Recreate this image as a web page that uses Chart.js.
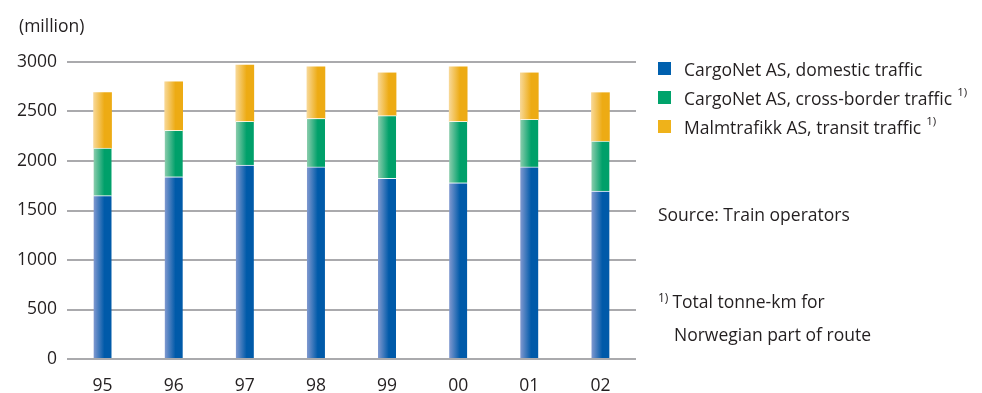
<!DOCTYPE html>
<html>
<head>
<meta charset="utf-8">
<script src="https://cdn.jsdelivr.net/npm/chart.js@4/dist/chart.umd.min.js"></script>
<style>
  html, body { margin: 0; padding: 0; background: #fff; }
  #wrap { position: relative; width: 982px; height: 393px; overflow: hidden;
          font-family: "Open Sans", "Noto Sans", sans-serif; color: #231f20; }
  #chart { position: absolute; left: 0; top: 0; }
  .unit { position: absolute; left: 19px; top: 13px; font-size: 17.5px; line-height: 24px; }
  .legend { position: absolute; left: 658px; top: 54px; }
  .row { height: 29px; display: flex; align-items: center; font-size: 17.5px; white-space: nowrap; }
  .sw { width: 13px; height: 13px; margin-right: 13px; flex: none; }
  .sup { font-size: 11.5px; position: relative; top: -6px; margin-left: 5px; }
  .note { position: absolute; left: 658px; font-size: 17.5px; line-height: 30px; white-space: nowrap; }
  .note .sup { margin-left: 0; margin-right: 4px; font-size: 12px; }
</style>
</head>
<body>
<div id="wrap">
  <canvas id="chart" width="982" height="393"></canvas>
  <div class="unit">(million)</div>
  <div class="legend" id="legend"></div>
  <div class="note" style="top:199px;">Source: Train operators</div>
  <div class="note" style="top:286px;"><span class="sup">1)</span>Total tonne-km for<br><span style="padding-left:16px">Norwegian part of route</span></div>
</div>
<script>
// Freight train traffic, tonne-km (million), by operator
const years = ['95', '96', '97', '98', '99', '00', '01', '02'];
const domestic    = [1650, 1840, 1960, 1940, 1825, 1780, 1940, 1695];
const crossBorder = [ 480,  470,  440,  490,  635,  620,  480,  505];
const transit     = [ 560,  490,  570,  520,  430,  550,  470,  490];
const yTicks = [0, 500, 1000, 1500, 2000, 2500, 3000];

const seriesNames = [
  'CargoNet AS, domestic traffic',
  'CargoNet AS, cross-border traffic',
  'Malmtrafikk AS, transit traffic'
];
const footnoted = [false, true, true];

const BAR = 18;
const palette = [
  { swatch: '#0060ae', light: '#8199d0', dark: '#005aa9' },
  { swatch: '#00a36b', light: '#8ccdad', dark: '#00a06a' },
  { swatch: '#efb21a', light: '#f8d896', dark: '#edab14' }
];

// Horizontal shading across each bar, light on the left, saturated on the right
function barFill(p) {
  return (ctx) => {
    const chart = ctx.chart;
    const x = chart.scales && chart.scales.x;
    if (!chart.chartArea || !x || ctx.dataIndex === undefined) return p.dark;
    const cx = x.getPixelForValue(ctx.dataIndex);
    const g = chart.ctx.createLinearGradient(cx - BAR / 2, 0, cx + BAR / 2, 0);
    g.addColorStop(0, p.light);
    g.addColorStop(0.6, p.dark);
    g.addColorStop(1, p.dark);
    return g;
  };
}

const values = [domestic, crossBorder, transit];
const datasets = values.map((data, i) => ({
  label: seriesNames[i],
  data: data,
  backgroundColor: barFill(palette[i]),
  borderColor: 'rgba(255,255,255,0.75)',
  borderWidth: i < 2 ? { top: 1, bottom: 0, left: 0, right: 0 } : 0,
  borderSkipped: false,
  barThickness: BAR
}));

// HTML legend built from the series names
const legendEl = document.getElementById('legend');
seriesNames.forEach((name, i) => {
  const row = document.createElement('div');
  row.className = 'row';
  row.innerHTML = '<span class="sw" style="background:' + palette[i].swatch + '"></span>' +
    name + (footnoted[i] ? '<span class="sup">1)</span>' : '');
  legendEl.appendChild(row);
});

const tickFont = { family: '"Open Sans", "Noto Sans", sans-serif', size: 17.5 };

new Chart(document.getElementById('chart'), {
  type: 'bar',
  data: { labels: years, datasets: datasets },
  options: {
    responsive: false,
    animation: false,
    layout: { padding: { top: 62, right: 346, left: 0, bottom: 0 } },
    plugins: { legend: { display: false }, tooltip: { enabled: false } },
    scales: {
      x: {
        stacked: true,
        grid: { display: false, drawTicks: false },
        border: { display: false },
        ticks: { color: '#231f20', font: tickFont, padding: 17 },
        afterFit: (s) => { s.height = 34; }
      },
      y: {
        stacked: true,
        min: 0,
        max: 3000,
        afterBuildTicks: (s) => { s.ticks = yTicks.map(v => ({ value: v })); },
        grid: { color: '#aaaaad', lineWidth: 2, drawTicks: false },
        border: { display: false },
        ticks: { color: '#231f20', font: tickFont, padding: 10, callback: (v) => String(v) },
        afterFit: (s) => { s.width = 67; }
      }
    }
  }
});
</script>
</body>
</html>
